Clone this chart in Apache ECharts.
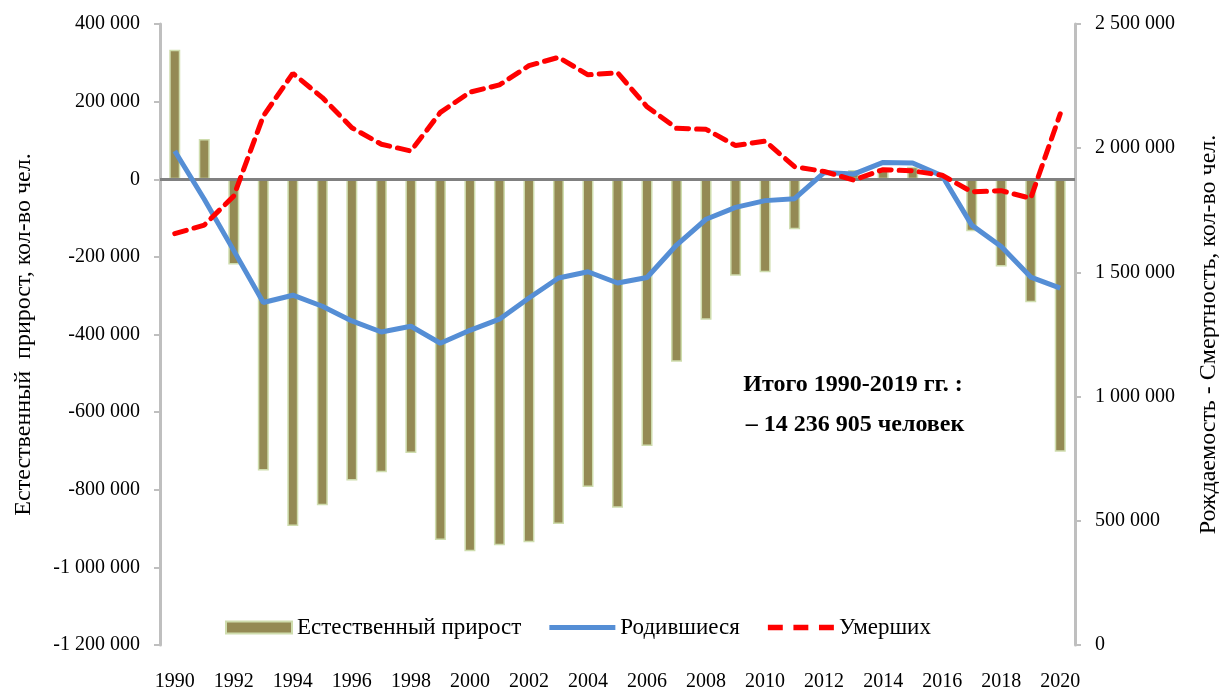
<!DOCTYPE html>
<html>
<head>
<meta charset="utf-8">
<script src="https://cdn.jsdelivr.net/npm/echarts@6/dist/echarts.min.js"></script>
<style>
    html, body { margin: 0; padding: 0; background: #fff; }
    #main { width: 1219px; height: 690px; }
</style>
</head>
<body>
<div id="main"></div>
<script>
// годы
var years = [];
for (var y = 1990; y <= 2020; y++) {
    years.push(String(y));
}

// естественный прирост, чел.
var naturalGrowth = [
    333600, 103900, -219800, -750300, -893200, -840000, -776000, -755000, -705000, -929600,
    -958500, -943300, -935300, -888500, -792900, -846600, -687100, -470300, -362000, -248900,
    -239600, -129100, -4300, 24000, 29100, 32000, -2300, -134000, -224600, -317200, -702100
];

// родившиеся, чел.
var births = [
    1988858, 1794626, 1587644, 1378983, 1408159, 1363806, 1304638, 1259943, 1283292, 1214689,
    1266800, 1311604, 1396967, 1477301, 1502477, 1457376, 1479637, 1610122, 1713947, 1761687,
    1788948, 1796629, 1902084, 1895822, 1942683, 1940579, 1888729, 1690307, 1604344, 1481074,
    1436514
];

// умершие, чел.
var deaths = [
    1655993, 1690657, 1807441, 2129339, 2301366, 2203811, 2082249, 2015779, 1988744, 2144316,
    2225332, 2254856, 2332272, 2365826, 2295402, 2303935, 2166703, 2080445, 2075954, 2010543,
    2028516, 1925720, 1906335, 1871809, 1913613, 1908541, 1891015, 1824340, 1828910, 1798307,
    2138586
];

var FONT = 'Liberation Serif';

// 1200000 -> "1 200 000"
function fmt(v) {
    var s = String(Math.abs(v)).replace(/\B(?=(\d{3})+(?!\d))/g, ' ');
    return (v < 0 ? '-' : '') + s;
}

var chart = echarts.init(document.getElementById('main'));

var option = {
    animation: false,
    textStyle: {fontFamily: FONT, color: '#000'},
    grid: {left: 160, right: 144, top: 24, bottom: 45, outerBoundsMode: 'none', containLabel: false},
    legend: {
        left: 220,
        top: 611,
        itemWidth: 66,
        itemHeight: 12,
        itemGap: 28,
        symbolKeepAspect: true,
        textStyle: {fontFamily: FONT, fontSize: 23, color: '#000'},
        data: [
            {name: 'Естественный прирост', icon: 'rect'},
            {name: 'Родившиеся', icon: 'path://M0,0h66v5h-66z'},
            {name: 'Умерших', icon: 'path://M2,0h14v5h-14z M26,0h14v5h-14z M50,0h14v5h-14z'}
        ]
    },
    xAxis: {
        type: 'category',
        data: years,
        boundaryGap: true,
        axisLine: {show: false},
        axisTick: {show: false},
        axisLabel: {interval: 1, margin: 27, fontSize: 20, fontFamily: FONT, color: '#000'},
        splitLine: {show: false}
    },
    yAxis: [
        {
            type: 'value',
            min: -1200000,
            max: 400000,
            interval: 200000,
            name: 'Естественный  прирост, кол-во чел.',
            nameLocation: 'middle',
            nameRotate: 90,
            nameGap: 124,
            nameTextStyle: {fontSize: 24, fontFamily: FONT, color: '#000'},
            axisLine: {show: true, lineStyle: {color: '#BFBFBF', width: 3}},
            axisTick: {show: true, length: 6, lineStyle: {color: '#BFBFBF', width: 2}},
            axisLabel: {margin: 20, fontSize: 20, fontFamily: FONT, color: '#000', formatter: fmt},
            splitLine: {show: false}
        },
        {
            type: 'value',
            min: 0,
            max: 2500000,
            interval: 500000,
            position: 'right',
            name: 'Рождаемость - Смертность, кол-во чел.',
            nameLocation: 'middle',
            nameRotate: 90,
            nameGap: 122,
            nameTextStyle: {fontSize: 24, fontFamily: FONT, color: '#000'},
            axisLine: {show: true, lineStyle: {color: '#BFBFBF', width: 3}},
            axisTick: {show: true, length: 6, lineStyle: {color: '#BFBFBF', width: 2}},
            axisLabel: {margin: 20, fontSize: 20, fontFamily: FONT, color: '#000', formatter: fmt},
            splitLine: {show: false}
        }
    ],
    series: [
        {
            name: 'Естественный прирост',
            type: 'bar',
            yAxisIndex: 0,
            data: naturalGrowth,
            barWidth: 11,
            itemStyle: {color: '#948A54', borderColor: '#CFDDAE', borderWidth: 1.5},
            z: 2,
            markLine: {
                silent: true,
                symbol: 'none',
                label: {show: false},
                lineStyle: {color: '#808080', width: 3, type: 'solid'},
                data: [{yAxis: 0}],
                z: 3
            }
        },
        {
            name: 'Родившиеся',
            type: 'line',
            yAxisIndex: 1,
            data: births,
            symbol: 'none',
            lineStyle: {color: '#558ED5', width: 5},
            itemStyle: {color: '#558ED5'},
            z: 4
        },
        {
            name: 'Умерших',
            type: 'line',
            yAxisIndex: 1,
            data: deaths,
            symbol: 'none',
            lineStyle: {color: '#FF0000', width: 5, type: [12, 8], cap: 'round'},
            itemStyle: {color: '#FF0000'},
            z: 5
        }
    ],
    graphic: [
        {
            type: 'text',
            x: 853,
            y: 385,
            style: {
                text: 'Итого 1990-2019 гг. :',
                font: 'bold 24px "Liberation Serif"',
                fill: '#000',
                align: 'center',
                verticalAlign: 'middle'
            }
        },
        {
            type: 'text',
            x: 855,
            y: 425,
            style: {
                text: '\u2013 14 236 905 человек',
                font: 'bold 24px "Liberation Serif"',
                fill: '#000',
                align: 'center',
                verticalAlign: 'middle'
            }
        }
    ]
};

chart.setOption(option);
</script>
</body>
</html>
